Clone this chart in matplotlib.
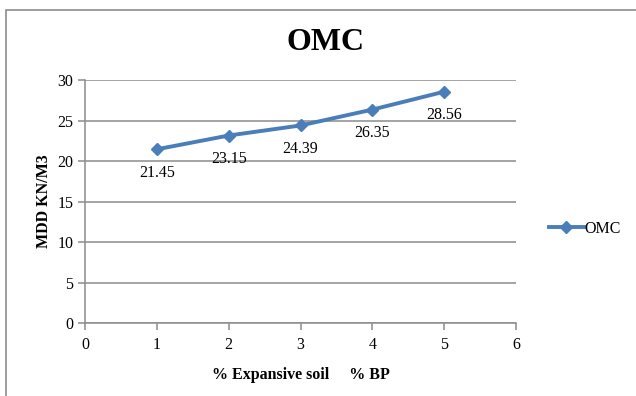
import matplotlib.pyplot as plt
from matplotlib.patches import Rectangle

# data
bp_percent = [1, 2, 3, 4, 5]
omc_values = [21.45, 23.15, 24.39, 26.35, 28.56]
value_labels = ["21.45", "23.15", "24.39", "26.35", "28.56"]
y_ticks = [0, 5, 10, 15, 20, 25, 30]
x_ticks = [0, 1, 2, 3, 4, 5, 6]

plt.rcParams['font.family'] = ['Liberation Serif', 'DejaVu Serif']

line_color = "#4A7EBB"
grid_color = "#8C8C8C"

fig = plt.figure(figsize=(6.36, 3.96), dpi=100)
ax = fig.add_axes([0.1336, 0.184, 0.678, 0.614])

# outer chart border (as in the Excel export)
fig.patches.append(Rectangle((6 / 636, -0.05), 1.2, 1 - 10 / 396 + 0.05,
                             transform=fig.transFigure, fill=False,
                             edgecolor="#8C8C8C", linewidth=1.2))

ax.plot(bp_percent, omc_values, color=line_color, linewidth=2.8,
        marker="D", markersize=6.5, label="OMC")

for x, y, txt in zip(bp_percent, omc_values, value_labels):
    ax.annotate(txt, (x, y), xytext=(0, -17), textcoords="offset points",
                ha="center", va="center", fontsize=11.5)

ax.set_xlim(0, 6)
ax.set_ylim(0, 30)
ax.set_xticks(x_ticks)
ax.set_yticks(y_ticks)
ax.yaxis.grid(True, color=grid_color, linewidth=1.1)
ax.set_axisbelow(True)

for s in ["top", "right"]:
    ax.spines[s].set_visible(False)
for s in ["left", "bottom"]:
    ax.spines[s].set_color(grid_color)
    ax.spines[s].set_linewidth(1.1)

ax.tick_params(axis="both", colors=grid_color, length=5, width=1.1,
               labelsize=11.5, labelcolor="black")
ax.tick_params(axis="x", pad=5)

fig.text(325 / 636, 1 - 42 / 396, "OMC", fontsize=23, fontweight="bold",
         ha="center", va="center")
ax.set_xlabel("% Expansive soil     % BP", fontsize=11.5, fontweight="bold",
              labelpad=10)
ax.set_ylabel("MDD KN/M3", fontsize=11.5, fontweight="bold", labelpad=4)

fig.legend(loc="center left", bbox_to_anchor=(0.84, 0.422), frameon=False,
           fontsize=11.5, handlelength=2.2, handletextpad=0.05)

fig.savefig("out.png", dpi=100)
